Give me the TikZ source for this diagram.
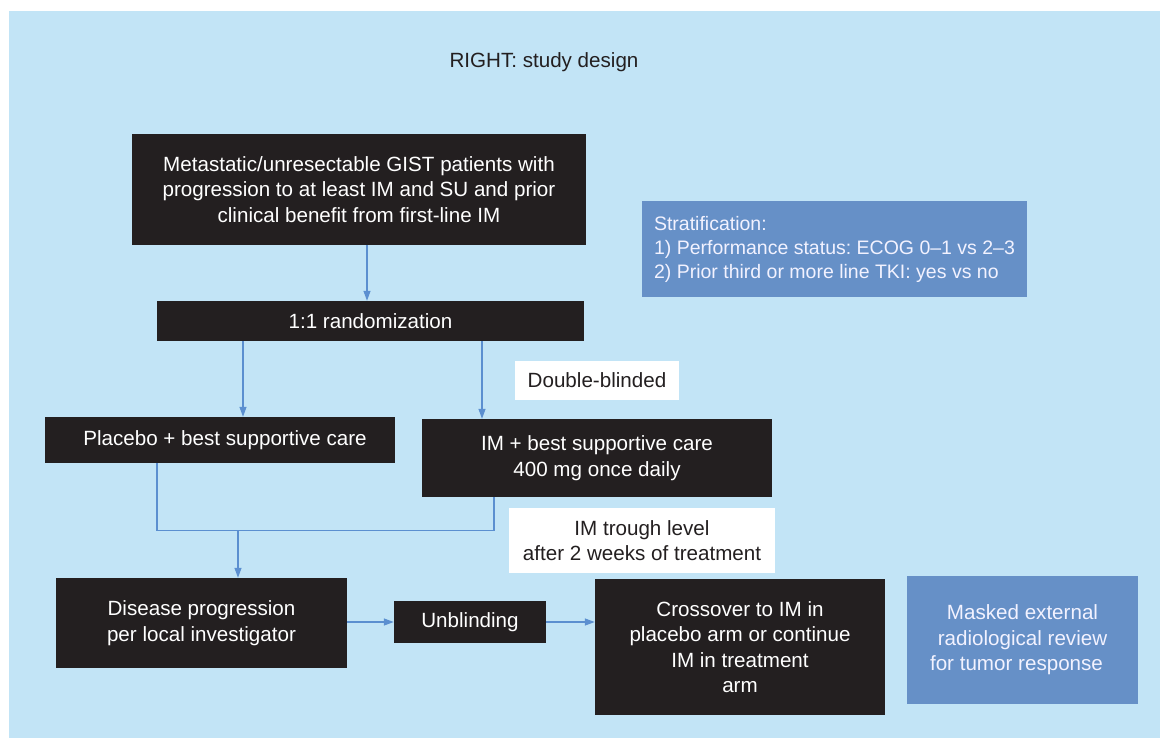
\documentclass[tikz,border=0pt]{standalone}
\usepackage{fontspec}
\setmainfont{Liberation Sans}
\usetikzlibrary{arrows.meta,calc}
\definecolor{bgblue}{HTML}{C2E4F6}
\definecolor{darkbox}{HTML}{231F20}
\definecolor{midblue}{HTML}{6690C7}
\definecolor{arrblue}{HTML}{5B8FD0}
\tikzset{
  base/.style={rectangle, inner sep=0pt, align=center, font=\fontsize{20.6}{25.5}\selectfont\frenchspacing},
  dark/.style={base, fill=darkbox, text=white},
  blue/.style={base, fill=midblue, text=white!95!blue},
  white/.style={base, fill=white, text=darkbox},
  conn/.style={draw=arrblue, line width=1.3pt},
  arr/.style={conn, -{Triangle[length=10pt,width=7pt]}},
}
\begin{document}
\begin{tikzpicture}[x=1pt,y=-1pt]
\useasboundingbox (0,0) rectangle (1160,738);
\fill[bgblue] (9,11) rectangle (1160,738);
\node[base, text=darkbox] (title) at (544,62) {RIGHT: study design};
\node[dark, minimum width=454, minimum height=111] (b1) at (359,189.5)
  {Metastatic/unresectable GIST patients with\\progression to at least IM and SU and prior\\clinical benefit from first-line IM};
\node[blue, minimum width=385, minimum height=96, align=left,
  font=\fontsize{19.5}{24}\selectfont\frenchspacing] (strat) at (834.5,249)
  {Stratification:\\1) Performance status: ECOG 0--1 vs 2--3\\2) Prior third or more line TKI: yes vs no};
\node[dark, minimum width=427, minimum height=40] (b2) at (370.5,321) {1:1 randomization};
\node[white, minimum width=164, minimum height=39] (db) at (597,380.5) {Double-blinded};
\node[dark, minimum width=350, minimum height=46] (pl) at (220,440) {\hspace*{10pt}Placebo + best supportive care};
\node[dark, minimum width=350, minimum height=78] (im) at (597,458) {IM + best supportive care\\400 mg once daily};
\node[white, minimum width=266, minimum height=65] (tr) at (642,540.5) {IM trough level\\after 2 weeks of treatment};
\node[dark, minimum width=291, minimum height=90] (dis) at (201.5,623) {Disease progression\\per local investigator};
\node[dark, minimum width=152, minimum height=42] (ub) at (470,622) {Unblinding};
\node[dark, minimum width=290, minimum height=136] (cx) at (740,647) {Crossover to IM in\\placebo arm or continue\\IM in treatment\\arm};
\node[blue, minimum width=231, minimum height=128] (mask) at (1022.5,640) {Masked external\\radiological review\\for tumor response\hspace*{12pt}};
% connectors
\draw[arr] ([xshift=-3.5]b2.north |- b1.south) -- ([xshift=-3.5]b2.north);
\draw[arr] ([xshift=23]pl.north |- b2.south) -- ([xshift=23]pl.north);
\draw[arr] ([xshift=-115]im.north |- b2.south) -- ([xshift=-115]im.north);
\coordinate (m) at ([yshift=-67]pl.south -| dis.north);
\coordinate (mm) at ([xshift=36.5]m);
\draw[conn] ([xshift=-63]pl.south) |- (mm) -| ([xshift=-103]im.south);
\draw[arr] (mm) -- (mm |- dis.north);
\draw[arr] (dis.east |- ub.west) -- (ub.west);
\draw[arr] (ub.east) -- (ub.east -| cx.west);
\end{tikzpicture}
\end{document}
